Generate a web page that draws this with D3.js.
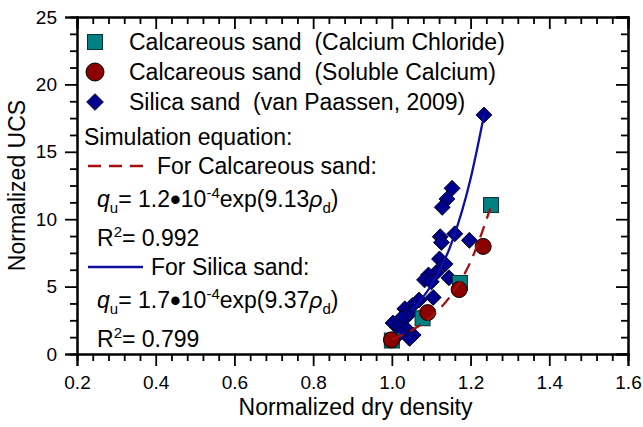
<!DOCTYPE html>
<html lang="en">
<head>
<meta charset="UTF-8" />
<title>Normalized UCS vs dry density</title>
<script src="https://cdn.jsdelivr.net/npm/d3@7"></script>
<style>
  body { margin: 0; background: #fff; }
  svg { font-family: "Liberation Sans", Arial, sans-serif; }
  text { white-space: pre; }
</style>
</head>
<body>
<div id="container"></div>
<script>
// ---- data ----
const xTicks = [0.2, 0.4, 0.6, 0.8, 1.0, 1.2, 1.4, 1.6]
const yTicks = [0, 5, 10, 15, 20, 25]
const seriesNames = [
  'Calcareous sand  (Calcium Chloride)',
  'Calcareous sand  (Soluble Calcium)',
  'Silica sand  (van Paassen, 2009)'
]
// [normalized dry density, normalized UCS]
const calciumChloride = [[1.0, 1.0], [1.078, 2.65], [1.173, 5.27], [1.252, 11.05]]
const solubleCalcium = [[0.999, 1.05], [1.091, 3.07], [1.171, 4.78], [1.232, 7.98]]
const vanPaassen = [
  [1.234, 17.73], [1.153, 12.29], [1.140, 11.5], [1.128, 10.88],
  [1.160, 8.92], [1.123, 8.7], [1.126, 8.28], [1.197, 8.43],
  [1.121, 7.05], [1.135, 6.68], [1.113, 6.05], [1.093, 5.86],
  [1.083, 5.5], [1.100, 5.36], [1.145, 5.65], [1.105, 4.2],
  [1.069, 4.0], [1.052, 3.6], [1.033, 3.35], [1.045, 3.0],
  [1.037, 2.77], [1.024, 2.65], [1.003, 2.3], [1.016, 2.03],
  [1.037, 1.85], [1.054, 1.41], [1.045, 1.16], [1.020, 1.54]
]
// fitted curves, points
const calcareousFit = [[1.0, 1.1], [1.05, 1.75], [1.1, 2.75], [1.15, 4.35], [1.2, 6.85], [1.25, 10.8]]
const silicaFit = [[1.05, 3.2], [1.1, 5.1], [1.15, 8.1], [1.2, 13.0], [1.234, 17.7]]
const fitTitle = 'Simulation equation:'
const fitLabels = ['For Calcareous sand:', 'For Silica sand:']
const eqCalcareous = ['1.2', '-4', '9.13', '0.992']
const eqSilica = ['1.7', '-4', '9.37', '0.799']

// ---- setup ----
const width = 643
const height = 427
const marginTop = 17
const marginRight = 15
const marginBottom = 73
const marginLeft = 77

const x = d3.scaleLinear().domain([0.2, 1.6]).range([marginLeft, width - marginRight])
const y = d3.scaleLinear().domain([0, 25]).range([height - marginBottom, marginTop])

const xMinor = d3.range(5, 41).filter(i => i % 5).map(i => i * 0.04)
const yMinor = d3.range(0, 21).filter(i => i % 4).map(i => i * 1.25)

const svg = d3.create('svg')
  .attr('width', width)
  .attr('height', height)
  .attr('viewBox', [0, 0, width, height])

const navy = '#00008f'
const darkRed = '#8b0000'
const teal = '#008080'

// axes
function styleAxis(g) {
  g.selectAll('.domain').attr('stroke', '#000').attr('stroke-width', 2)
  g.selectAll('.tick line').attr('stroke', '#000').attr('stroke-width', 1.8)
  g.selectAll('.tick text').attr('fill', '#000').attr('font-size', 19)
  g.attr('font-family', null)
}

svg.append('g')
  .attr('transform', `translate(0,${height - marginBottom})`)
  .call(d3.axisBottom(x).tickValues(xMinor).tickSize(7).tickFormat(''))
  .call(styleAxis)
svg.append('g')
  .attr('transform', `translate(0,${height - marginBottom})`)
  .call(d3.axisBottom(x).tickValues(xTicks).tickSize(12).tickPadding(10).tickFormat(d3.format('.1f')))
  .call(styleAxis)
svg.append('g')
  .attr('transform', `translate(0,${marginTop})`)
  .call(d3.axisTop(x).tickValues(xMinor).tickSize(-7).tickFormat(''))
  .call(styleAxis)
svg.append('g')
  .attr('transform', `translate(0,${marginTop})`)
  .call(d3.axisTop(x).tickValues(xTicks).tickSize(-12).tickFormat(''))
  .call(styleAxis)

svg.append('g')
  .attr('transform', `translate(${marginLeft},0)`)
  .call(d3.axisLeft(y).tickValues(yMinor).tickSize(7).tickFormat(''))
  .call(styleAxis)
svg.append('g')
  .attr('transform', `translate(${marginLeft},0)`)
  .call(d3.axisLeft(y).tickValues(yTicks).tickSize(12).tickPadding(8))
  .call(styleAxis)
svg.append('g')
  .attr('transform', `translate(${width - marginRight},0)`)
  .call(d3.axisRight(y).tickValues(yMinor).tickSize(-7).tickFormat(''))
  .call(styleAxis)
svg.append('g')
  .attr('transform', `translate(${width - marginRight},0)`)
  .call(d3.axisRight(y).tickValues(yTicks).tickSize(-12).tickFormat(''))
  .call(styleAxis)

// axis titles
svg.append('text')
  .attr('x', (marginLeft + width - marginRight) / 2 + 3)
  .attr('y', 415)
  .attr('text-anchor', 'middle')
  .attr('font-size', 23)
  .text('Normalized dry density')
svg.append('text')
  .attr('transform', `translate(25,${(marginTop + height - marginBottom) / 2}) rotate(-90)`)
  .attr('text-anchor', 'middle')
  .attr('font-size', 23)
  .text('Normalized UCS')

// markers
const diamond = d3.symbol(d3.symbolSquare, 128)
const marks = svg.append('g')
marks.selectAll('path.dia')
  .data(vanPaassen)
  .join('path')
  .attr('class', 'dia')
  .attr('d', diamond)
  .attr('transform', d => `translate(${x(d[0])},${y(d[1])}) rotate(45)`)
  .attr('fill', navy)
  .attr('stroke', '#000')
  .attr('stroke-width', 0.8)
marks.selectAll('rect')
  .data(calciumChloride)
  .join('rect')
  .attr('x', d => x(d[0]) - 7.5)
  .attr('y', d => y(d[1]) - 7.5)
  .attr('width', 15)
  .attr('height', 15)
  .attr('fill', teal)
  .attr('stroke', '#0d3030')
  .attr('stroke-width', 1)
marks.selectAll('circle')
  .data(solubleCalcium)
  .join('circle')
  .attr('cx', d => x(d[0]))
  .attr('cy', d => y(d[1]))
  .attr('r', 8)
  .attr('fill', darkRed)
  .attr('stroke', '#000')
  .attr('stroke-width', 1)

// fit lines
const line = d3.line().x(d => x(d[0])).y(d => y(d[1])).curve(d3.curveMonotoneX)
svg.append('path')
  .datum(calcareousFit)
  .attr('d', line)
  .attr('fill', 'none')
  .attr('stroke', '#a50f0f')
  .attr('stroke-width', 2.3)
  .attr('stroke-dasharray', '12,8')
svg.append('path')
  .datum(silicaFit)
  .attr('d', line)
  .attr('fill', 'none')
  .attr('stroke', '#1010a0')
  .attr('stroke-width', 2.3)

// legend
const legend = svg.append('g').attr('font-size', 23)
const rowY = [42, 72, 102]
legend.append('rect')
  .attr('x', 95 - 7.5).attr('y', rowY[0] - 7.5)
  .attr('width', 15).attr('height', 15)
  .attr('fill', teal).attr('stroke', '#0d3030')
legend.append('circle')
  .attr('cx', 95).attr('cy', rowY[1]).attr('r', 9)
  .attr('fill', darkRed).attr('stroke', '#000')
legend.append('path')
  .attr('d', d3.symbol(d3.symbolSquare, 140))
  .attr('transform', `translate(95,${rowY[2]}) rotate(45)`)
  .attr('fill', navy).attr('stroke', '#000').attr('stroke-width', 0.8)
legend.selectAll('text.series')
  .data(seriesNames)
  .join('text')
  .attr('class', 'series')
  .attr('x', 129)
  .attr('y', (d, i) => rowY[i] + 8)
  .text(d => d)

// equation annotations
const note = svg.append('g').attr('font-size', 23)
note.append('text').attr('x', 84).attr('y', 145).text(fitTitle)

note.append('line')
  .attr('x1', 88).attr('x2', 143).attr('y1', 166).attr('y2', 166)
  .attr('stroke', '#a50f0f').attr('stroke-width', 2.3).attr('stroke-dasharray', '13,8')
note.append('text').attr('x', 157).attr('y', 174).text(fitLabels[0])
note.append('line')
  .attr('x1', 88).attr('x2', 143).attr('y1', 267).attr('y2', 267)
  .attr('stroke', '#1010a0').attr('stroke-width', 2.3)
note.append('text').attr('x', 151).attr('y', 275).text(fitLabels[1])

function richText(xPos, yPos, parts) {
  const t = note.append('text').attr('x', xPos).attr('y', yPos)
  let cur = 0
  parts.forEach(p => {
    const off = p.sub ? 6 : p.sup ? -9 : p.dot ? 2.5 : 0
    const s = t.append('tspan').attr('dy', off - cur).text(p.t)
    if (p.sub || p.sup) s.attr('font-size', 15)
    if (p.dot) s.attr('font-size', 31)
    if (p.it) s.attr('font-style', 'italic')
    cur = off
  })
}
function equation(yPos, eq) {
  richText(97, yPos, [
    { t: 'q', it: true }, { t: 'u', sub: true }, { t: '= ' + eq[0] },
    { t: '\u2022', dot: true }, { t: '10' },
    { t: eq[1], sup: true }, { t: 'exp(' + eq[2] }, { t: '\u03c1', it: true },
    { t: 'd', sub: true }, { t: ')' }
  ])
}
function rsq(yPos, eq) {
  richText(97, yPos, [{ t: 'R' }, { t: '2', sup: true }, { t: '= ' + eq[3] }])
}
equation(207, eqCalcareous)
rsq(246, eqCalcareous)
equation(308, eqSilica)
rsq(347, eqSilica)

container.append(svg.node())
</script>
</body>
</html>
